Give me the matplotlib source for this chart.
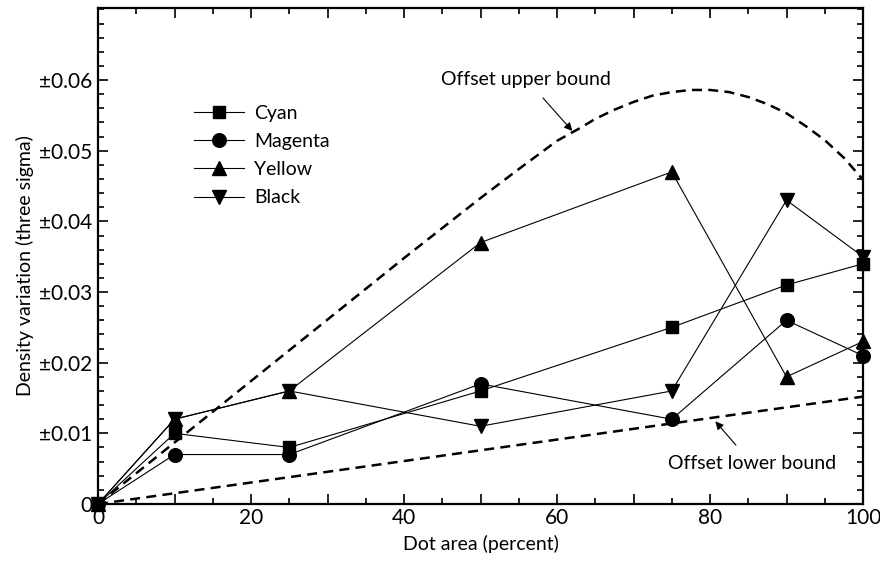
import matplotlib
matplotlib.use("Agg")
import matplotlib.pyplot as plt
from matplotlib.ticker import MultipleLocator, FixedLocator, FuncFormatter

plt.rcParams['font.family'] = ['Lato', 'DejaVu Sans']

# Data
dot_area = [0, 10, 25, 50, 75, 90, 100]
cyan = [0.0, 0.010, 0.008, 0.016, 0.025, 0.031, 0.034]
magenta = [0.0, 0.007, 0.007, 0.017, 0.012, 0.026, 0.021]
yellow = [0.0, 0.012, 0.016, 0.037, 0.047, 0.018, 0.023]
black = [0.0, 0.012, 0.016, 0.011, 0.016, 0.043, 0.035]

upper_x = [0, 10, 20, 30, 40, 50, 55, 60, 63, 65, 67.5, 70, 72.5, 75, 77.5, 80,
           82.5, 85, 87.5, 90, 92.5, 95, 97.5, 100]
upper_y = [0.0, 0.0087, 0.0174, 0.0261, 0.0348, 0.0433, 0.0474, 0.0514, 0.0532,
           0.0545, 0.0558, 0.0569, 0.0578, 0.0583, 0.0586, 0.0586, 0.0583, 0.0576,
           0.0566, 0.0553, 0.0535, 0.0515, 0.0490, 0.0459]
lower_x = [0, 100]
lower_y = [0.0, 0.0152]

y_ticks = [0.0, 0.01, 0.02, 0.03, 0.04, 0.05, 0.06]
x_ticks = [0, 10, 20, 30, 40, 50, 60, 70, 80, 90, 100]

series = [("Cyan", cyan, 's'), ("Magenta", magenta, 'o'),
          ("Yellow", yellow, '^'), ("Black", black, 'v')]

fig = plt.figure(figsize=(8.8, 5.62), dpi=100)
ax = fig.add_axes([98/880, 1-504/562, (863-98)/880, (504-8)/562])

for name, vals, mk in series:
    ms = 8.8 if mk == 's' else 9.8
    ax.plot(dot_area, vals, color='black', lw=0.8, marker=mk, ms=ms,
            mfc='black', mec='black', label=name, clip_on=False, zorder=3)

ax.plot(upper_x, upper_y, color='black', lw=1.8, dashes=(4, 2.5))
ax.plot(lower_x, lower_y, color='black', lw=1.8, dashes=(4, 2.5))

ax.set_xlim(0, 100)
ax.set_ylim(0, 0.0702)

ax.xaxis.set_major_locator(FixedLocator(x_ticks))
ax.xaxis.set_minor_locator(MultipleLocator(5))
ax.xaxis.set_major_formatter(FuncFormatter(lambda v, p: f"{int(round(v))}" if int(round(v)) % 20 == 0 else ""))
ax.yaxis.set_major_locator(FixedLocator(y_ticks))
ax.yaxis.set_minor_locator(MultipleLocator(0.002))
ax.yaxis.set_major_formatter(FuncFormatter(lambda v, p: "0" if abs(v) < 1e-9 else f"\u00b1{v:.2f}"))

ax.tick_params(which='both', direction='in', top=True, right=True, width=1.2, labelsize=15)
ax.tick_params(which='major', length=7)
ax.tick_params(which='minor', length=4)
ax.tick_params(axis='x', pad=3)
ax.tick_params(axis='y', pad=4)
for s in ax.spines.values():
    s.set_linewidth(1.6)

ax.set_xlabel("Dot area (percent)", fontsize=14, labelpad=5)
ax.set_ylabel("Density variation (three sigma)", fontsize=14)
ax.yaxis.set_label_coords(-0.084, 0.48)

leg = ax.legend(loc='upper left', bbox_to_anchor=(0.115, 0.82), frameon=False,
                fontsize=14, handlelength=2.6, handletextpad=0.5, labelspacing=0.57,
                borderaxespad=0)

ax.annotate("Offset upper bound", xy=(62, 0.0528), xytext=(56, 0.0601),
            ha='center', va='center', fontsize=14,
            arrowprops=dict(arrowstyle='-|>', lw=0.8, color='black', mutation_scale=12,
                            shrinkA=7, shrinkB=0))
ax.annotate("Offset lower bound", xy=(80.7, 0.0117), xytext=(85.5, 0.0057),
            ha='center', va='center', fontsize=14,
            arrowprops=dict(arrowstyle='-|>', lw=0.8, color='black', mutation_scale=12,
                            shrinkA=7, shrinkB=0))

fig.savefig("out.png", dpi=100)
